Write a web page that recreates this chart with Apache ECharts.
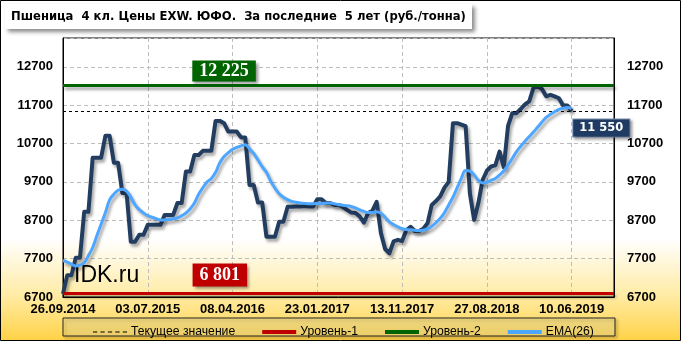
<!DOCTYPE html>
<html>
<head>
<meta charset="utf-8">
<script src="https://cdn.jsdelivr.net/npm/echarts@6/dist/echarts.min.js"></script>
<style>html,body{margin:0;padding:0;background:#fff}#c{width:681px;height:341px}</style>
</head>
<body>
<div id="c"></div>
<script>
// ---- data ----
const titleText = 'Пшеница  4 кл. Цены EXW. ЮФО.  За последние  5 лет (руб./тонна)';
const tickLabels = ['26.09.2014','03.07.2015','08.04.2016','23.01.2017','13.11.2017','27.08.2018','10.06.2019'];
const labelEvery = 20;       // categories between date labels
const categoryCount = 131;   // axis length (data + empty tail)
const price = [
 6780,7270,7270,7720,7720,8920,8920,10330,10330,10330,
 10900,10900,10200,10200,9410,9410,8140,8140,8320,8320,
 8580,8580,8580,8580,8840,8840,8840,9150,9150,9970,
 9970,10400,10400,10510,10510,10510,11290,11290,11230,11010,
 11010,11010,10860,10860,9620,9620,9160,9160,8270,8270,
 8270,8660,8660,9050,9050,9060,9060,9070,9060,9060,
 9250,9250,9150,9150,9100,9100,9050,8970,8900,8890,
 8800,8640,8890,8950,9180,8370,7950,7840,8150,8190,
 8160,8440,8530,8420,8420,8480,8620,9100,9200,9320,
 9550,9700,11230,11230,11190,11150,9400,8710,9150,9750,
 9990,10100,10130,10490,10080,11160,11490,11490,11600,11720,
 11800,12150,12190,12120,11930,11970,11930,11880,11690,11690,
 11550
];
const ema26 = [
 7650,7610,7560,7510,7530,7590,7780,7990,8300,8600,
 8900,9230,9380,9480,9510,9460,9300,9100,8980,8890,
 8820,8780,8740,8710,8710,8720,8740,8760,8820,8890,
 9000,9150,9380,9550,9700,9790,9950,10200,10360,10460,
 10550,10600,10640,10670,10560,10440,10270,10100,9950,9720,
 9540,9390,9300,9240,9190,9170,9150,9140,9130,9130,
 9140,9140,9145,9150,9130,9110,9090,9080,9060,9020,
 8970,8930,8900,8900,8920,8880,8780,8660,8590,8530,
 8480,8460,8450,8440,8430,8440,8480,8540,8640,8750,
 8900,9100,9300,9550,9800,10000,9980,9880,9740,9670,
 9690,9740,9790,9880,9990,10140,10310,10490,10630,10760,
 10880,11000,11130,11260,11380,11460,11530,11590,11620,11640,
 11610
];
const level1 = 6801;
const level2 = 12225;
const currentValue = 11550;
const yMin = 6700, yMax = 13450, yStep = 1000;
const legendNames = ['Текущее значение','Уровень-1','Уровень-2','EMA(26)'];

// ---- helpers ----
const categories = Array.from({length: categoryCount}, (_, i) => String(i));
const fmt = v => String(v).replace(/\B(?=(\d{3})+(?!\d))/g, ' ');
const isTick = idx => idx % labelEvery === 0 && idx / labelEvery < tickLabels.length;
const lineShadow = {shadowColor: 'rgba(0,0,0,0.35)', shadowBlur: 3, shadowOffsetX: 2, shadowOffsetY: 3};
const axisFont = {fontFamily: 'Liberation Sans', fontWeight: 'bold', fontSize: 13, color: '#000'};
const dashIcon = 'path://M0,0h4v1h-4zM7,0h4v1h-4zM14,0h4v1h-4zM21,0h4v1h-4zM28,0h4v1h-4z';

const chart = echarts.init(document.getElementById('c'), null, {renderer: 'canvas'});
chart.setOption({
  animation: false,
  backgroundColor: {
    type: 'linear', x: 0, y: 0, x2: 0, y2: 1,
    colorStops: [
      {offset: 0, color: '#ffffff'},
      {offset: 0.70, color: '#ffffff'},
      {offset: 0.86, color: '#FFECA8'},
      {offset: 1, color: '#FFD246'}
    ]
  },
  grid: {left: 63, right: 67, top: 38, bottom: 44, show: true, borderColor: '#000', borderWidth: 1, backgroundColor: 'transparent'},
  legend: {
    data: [
      {name: legendNames[0], icon: dashIcon, itemStyle: {color: '#000'}},
      {name: legendNames[1], icon: 'rect', itemStyle: {color: '#C00000'}},
      {name: legendNames[2], icon: 'rect', itemStyle: {color: '#006400'}},
      {name: legendNames[3], icon: 'rect', itemStyle: {color: '#4DA6FF'}}
    ],
    left: 88, top: 321,
    itemWidth: 34, itemHeight: 4, itemGap: 27,
    textStyle: {fontFamily: 'Liberation Sans', fontSize: 12.2, color: '#000', padding: [0, 0, 0, -1]}
  },
  xAxis: {
    type: 'category', data: categories, boundaryGap: false,
    axisLine: {show: true, lineStyle: {color: '#000'}},
    axisTick: {show: false},
    axisLabel: Object.assign({}, axisFont, {
      interval: isTick, margin: 6,
      formatter: (v, idx) => isTick(idx) ? tickLabels[idx / labelEvery] : ''
    }),
    splitLine: {show: true, interval: isTick, lineStyle: {color: '#BDBDBD', type: [4, 3]}}
  },
  yAxis: [
    {
      type: 'value', min: yMin, max: yMax, interval: yStep, position: 'left',
      axisLine: {show: true, lineStyle: {color: '#000'}},
      axisTick: {show: false},
      axisLabel: Object.assign({}, axisFont, {margin: 10, showMaxLabel: false, formatter: v => String(v)}),
      splitLine: {show: true, lineStyle: {color: '#BDBDBD', type: [4, 3]}}
    },
    {
      type: 'value', min: yMin, max: yMax, interval: yStep, position: 'right',
      axisLine: {show: true, lineStyle: {color: '#000'}},
      axisTick: {show: false},
      axisLabel: Object.assign({}, axisFont, {margin: 13, showMaxLabel: false, formatter: v => String(v)}),
      splitLine: {show: false}
    }
  ],
  series: [
    {
      name: 'Уровень-1', type: 'line', data: [], symbol: 'none',
      lineStyle: {color: '#C00000', width: 4}, itemStyle: {color: '#C00000'},
      markLine: {silent: true, symbol: 'none', label: {show: false},
        lineStyle: Object.assign({color: '#C00000', width: 3, type: 'solid'}, lineShadow),
        data: [{yAxis: level1}]},
      markPoint: {silent: true, symbol: 'rect', symbolSize: 0,
        label: {show: true, position: 'inside', offset: [0, -18], formatter: fmt(level1),
          fontFamily: 'Liberation Serif', fontWeight: 'bold', fontSize: 18, color: '#fff',
          backgroundColor: '#C00000', padding: [3, 7, 2, 7],
          shadowColor: 'rgba(0,0,0,0.45)', shadowBlur: 3, shadowOffsetX: 2, shadowOffsetY: 2},
        data: [{coord: [categories[37], level1]}]}
    },
    {
      name: 'Уровень-2', type: 'line', data: [], symbol: 'none',
      lineStyle: {color: '#006400', width: 4}, itemStyle: {color: '#006400'},
      markLine: {silent: true, symbol: 'none', label: {show: false},
        lineStyle: Object.assign({color: '#006400', width: 3, type: 'solid'}, lineShadow),
        data: [{yAxis: level2}]},
      markPoint: {silent: true, symbol: 'rect', symbolSize: 0,
        label: {show: true, position: 'inside', offset: [0, -14], formatter: fmt(level2),
          fontFamily: 'Liberation Serif', fontWeight: 'bold', fontSize: 18, color: '#fff',
          backgroundColor: '#006400', padding: [2, 7, 1, 7],
          shadowColor: 'rgba(0,0,0,0.45)', shadowBlur: 3, shadowOffsetX: 2, shadowOffsetY: 2},
        data: [{coord: [categories[38], level2]}]}
    },
    {
      name: 'Текущее значение', type: 'line', data: [], symbol: 'none',
      lineStyle: {color: '#000', width: 1, type: [3, 2]}, itemStyle: {color: '#000'},
      markLine: {silent: true, symbol: 'none', label: {show: false},
        lineStyle: {color: '#000', width: 1, type: [3, 3]},
        data: [{yAxis: currentValue}]},
      markPoint: {silent: true, symbol: 'rect', symbolSize: 0,
        label: {show: true, position: 'inside', offset: [0, 17], formatter: fmt(currentValue),
          fontFamily: 'DejaVu Sans', fontWeight: 'bold', fontSize: 11.5, color: '#fff',
          backgroundColor: '#1F3B63', borderColor: '#7F96B8', borderWidth: 1, padding: [3, 6, 2, 6],
          shadowColor: 'rgba(0,0,0,0.4)', shadowBlur: 3, shadowOffsetX: 2, shadowOffsetY: 2},
        data: [{coord: [categories[127], currentValue]}]}
    },
    {
      name: 'Цена', type: 'line', data: price, symbol: 'none', z: 4,
      lineStyle: Object.assign({color: '#233D61', width: 4, join: 'round'}, lineShadow),
      itemStyle: {color: '#233D61'}
    },
    {
      name: 'EMA(26)', type: 'line', data: ema26, symbol: 'none', smooth: 0.4, z: 5,
      lineStyle: Object.assign({color: '#4DA6FF', width: 3}, lineShadow),
      itemStyle: {color: '#4DA6FF'}
    }
  ],
  graphic: [
    {type: 'rect', z: -1, shape: {x: 63, y: 318, width: 552, height: 18},
      style: {fill: 'rgba(255,240,170,0.35)', stroke: '#222', lineWidth: 1,
        shadowColor: 'rgba(0,0,0,0.3)', shadowBlur: 3, shadowOffsetX: 2, shadowOffsetY: 2}},
    {type: 'rect', z: 10, shape: {x: 5, y: 4, width: 467, height: 25},
      style: {fill: '#fff', shadowColor: 'rgba(0,0,0,0.45)', shadowBlur: 4, shadowOffsetX: 3, shadowOffsetY: 3}},
    {type: 'text', z: 11, x: 11, y: 16.5,
      style: {text: titleText, font: 'bold 11.6px "DejaVu Sans"', fill: '#000', textVerticalAlign: 'middle'}},
    {type: 'text', z: 3, x: 74, y: 276,
      style: {text: 'IDK.ru', font: '23px "Liberation Sans"', fill: '#000', textVerticalAlign: 'middle'}},
    {type: 'rect', z: 20, silent: true, shape: {x: 0.5, y: 0.5, width: 680, height: 340},
      style: {fill: 'none', stroke: '#000', lineWidth: 1}}
  ]
});
</script>
</body>
</html>
